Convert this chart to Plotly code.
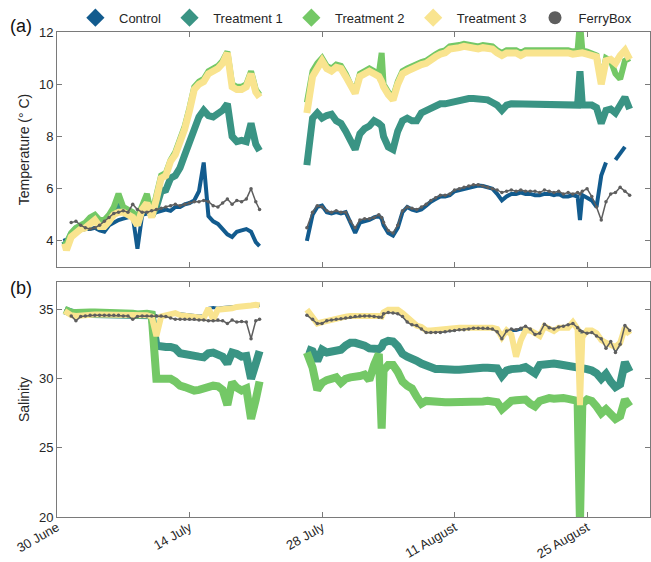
import pandas as pd
import plotly.graph_objects as go
from plotly.subplots import make_subplots

# ---------------- time axes (days after 30 June) ----------------
days_a = [0.8, 1.0, 1.5, 2.0, 2.5, 3.0, 3.5, 4.0,
          4.5, 5.0, 5.5, 6.0, 6.5, 7.0, 7.5, 8.0,
          8.5, 9.0, 9.5, 10.0, 10.5, 11.0, 11.5, 12.0,
          12.5, 13.0, 13.5, 14.0, 14.5, 15.0, 15.5, 16.0,
          16.5, 17.0, 17.5, 18.0, 18.5, 19.0, 19.5, 20.0,
          20.5, 21.0, 21.4]
days_b = [26.4, 27.0, 27.5, 28.0, 28.5, 29.0, 29.5, 30.0,
          30.5, 31.0, 31.5, 32.0, 32.5, 33.0, 33.5, 34.0,
          34.3, 34.5, 35.0, 35.5, 36.0, 36.5, 37.0, 37.5,
          38.0, 38.5, 39.0, 39.5, 40.0, 40.5, 41.0, 41.5,
          42.0, 42.5, 43.0, 43.5, 44.0, 44.5, 45.0, 45.5,
          46.0, 46.5, 47.0, 47.5, 48.0, 48.5, 49.0, 49.5,
          50.0, 50.5, 51.0, 51.5, 52.0, 52.5, 53.0, 53.5,
          54.0, 54.5, 55.0, 55.25, 55.5, 56.0, 56.5, 57.0,
          57.5, 58.0, 58.5, 59.0, 59.5, 60.0, 60.5]
gap_day = [24.0]

tick_days = [0, 14, 28, 42, 56]
tick_labels = ["30 June", "14 July", "28 July", "11 August", "25 August"]

series_names = ["Control", "Treatment 1", "Treatment 2", "Treatment 3", "FerryBox"]

# ---------------- temperature (deg C) ----------------
ctrl_T_a = [4.1, 3.9, 4.2, 4.35, 4.4, 4.45, 4.45, 4.5,
            4.4, 4.35, 4.6, 4.7, 4.8, 4.85, 4.9, 4.95,
            3.7, 5.0, 5.05, 5.1, 5.1, 5.15, 5.2, 5.15,
            5.3, 5.3, 5.4, 5.45, 5.55, 5.9, 7.0, 4.95,
            4.75, 4.65, 4.45, 4.25, 4.15, 4.35, 4.4, 4.45,
            4.35, 3.95, 3.8]
t1_T_a = [4.0, 3.85, 4.25, 4.45, 4.5, 4.6, 4.7, 4.85,
          4.65, 4.65, 4.85, 5.1, 5.3, 5.2, 5.05, 4.95,
          4.7, 5.2, 5.5, 4.95, 5.3, 5.9, 5.95, 6.4,
          6.5, 6.8, 7.3, 7.8, 8.3, 8.75, 9.0, 8.8,
          8.75, 8.9, 9.0, 9.25, 8.0, 7.8, 7.85, 7.8,
          8.5, 7.7, 7.45]
t2_T_a = [4.0, 3.9, 4.3, 4.5, 4.6, 4.7, 4.9, 5.0,
          4.8, 4.8, 5.0, 5.3, 5.8, 5.3, 5.2, 5.1,
          4.9, 5.3, 5.8, 5.0, 5.8, 6.5, 6.6, 7.1,
          7.4, 7.9, 8.4, 9.1, 9.9, 10.1, 10.2, 10.5,
          10.6, 10.7, 10.9, 11.25, 10.0, 9.9, 9.9, 10.0,
          10.5, 9.8, 9.6]
t3_T_a = [3.9, 3.65, 4.15, 4.35, 4.45, 4.5, 4.65, 4.8,
          4.55, 4.55, 4.75, 5.0, 5.1, 5.1, 5.0, 4.9,
          4.6, 5.2, 5.45, 4.9, 5.6, 6.4, 6.5, 7.05,
          7.3, 7.8, 8.3, 9.0, 9.8, 10.0, 10.1, 10.4,
          10.5, 10.6, 10.8, 11.2, 9.9, 9.8, 9.8, 9.9,
          10.4, 9.7, 9.5]
fb_T_a = [None, None, 4.7, 4.75, 4.6, 4.5, 4.45, 4.5,
          4.6, 4.75, 4.9, 5.05, 5.1, 5.15, 5.1, 5.4,
          5.2, 5.1, 5.1, 5.15, 5.2, 5.25, 5.3, 5.35,
          5.4, 5.35, 5.4, 5.45, 5.5, 5.5, 5.55, 5.5,
          5.35, 5.3, 5.45, 5.6, 5.4, 5.55, 5.5, 5.6,
          6.0, 5.5, 5.2]

ctrl_T_b = [4.0, 5.0, 5.3, 5.35, 5.1, 5.05, 5.1, 5.05,
            5.1, 4.7, 4.3, 4.7, 4.75, 4.8, 4.9, 4.95,
            4.85, 4.6, 4.3, 4.2, 4.5, 5.1, 5.3, 5.2,
            5.15, 5.2, 5.35, 5.5, 5.6, 5.7, 5.7, 5.75,
            5.9, 5.95, 6.0, 6.05, 6.1, 6.12, 6.1, 6.05,
            6.0, 5.8, 5.55, 5.7, 5.8, 5.8, 5.85, 5.8,
            5.8, 5.75, 5.75, 5.8, 5.8, 5.75, 5.8, 5.7,
            5.7, 5.75, 5.7, 4.8, 5.75, 5.65, 5.55, 5.3,
            6.5, 7.0, None, 7.1, 7.35, 7.6, None]
t1_T_b = [6.9, 8.7, 8.9, 8.7, 8.8, 8.85, 8.6, 8.5,
          8.2, 7.9, 7.5, 8.1, 8.3, 8.4, 8.6, 8.5,
          8.4, 8.0, 7.6, 7.5, 8.2, 8.6, 8.7, 8.6,
          8.6, 8.9, 9.0, 9.1, 9.15, 9.25, 9.25, 9.3,
          9.35, 9.4, 9.45, 9.45, 9.45, 9.45, 9.4, 9.4,
          9.3, 9.2, 9.0, 9.2, 9.25, 9.25, 9.2, 9.2,
          9.2, 9.2, 9.2, 9.25, 9.2, 9.2, 9.25, 9.2,
          9.2, 9.2, 9.2, 10.5, 9.2, 9.2, 9.2, 9.1,
          8.5, 9.0, 9.05, 8.9, 9.2, 9.5, 9.05]
t2_T_b = [9.3, 10.5, 10.8, 11.0, 10.7, 10.6, 10.75, 10.7,
          10.4, 10.0, 9.75, 10.4, 10.5, 10.6, 10.5, 10.4,
          11.2, 10.0, 9.7, 9.5, 10.1, 10.5, 10.6, 10.7,
          10.75, 10.85, 10.9, 11.05, 11.15, 11.25, 11.3, 11.45,
          11.45, 11.5, 11.55, 11.5, 11.5, 11.45, 11.5, 11.5,
          11.45, 11.3, 11.2, 11.3, 11.3, 11.3, 11.2, 11.3,
          11.3, 11.3, 11.35, 11.3, 11.35, 11.35, 11.3, 11.3,
          11.3, 11.25, 11.3, 12.4, 11.3, 11.25, 11.2, 11.1,
          10.1, 11.0, 10.9, 10.4, 10.2, 10.9, 11.0]
t3_T_b = [8.9, 10.3, 10.6, 10.9, 10.6, 10.5, 10.65, 10.6,
          10.3, 9.9, 9.65, 10.3, 10.4, 10.5, 10.4, 10.3,
          10.1, 9.9, 9.6, 9.4, 10.0, 10.4, 10.5, 10.6,
          10.65, 10.75, 10.8, 10.95, 11.05, 11.15, 11.2, 11.35,
          11.35, 11.4, 11.45, 11.4, 11.4, 11.35, 11.4, 11.4,
          11.35, 11.2, 11.1, 11.2, 11.2, 11.2, 11.1, 11.2,
          11.2, 11.2, 11.25, 11.2, 11.25, 11.25, 11.2, 11.2,
          11.2, 11.15, 11.2, 11.2, 11.2, 11.15, 11.1, 11.05,
          10.0, 10.9, 10.95, 10.8, 11.1, 11.3, 10.95]
fb_T_b = [4.5, 5.1, 5.35, 5.3, 5.15, 5.1, 5.15, 5.1,
          5.1, 4.75, 4.5, 4.8, 4.85, 4.85, 4.9, 5.0,
          4.9, 4.7, 4.4, 4.3, 4.6, 5.15, 5.3, 5.25,
          5.2, 5.3, 5.4, 5.55, 5.65, 5.75, 5.75, 5.8,
          5.95, 6.0, 6.05, 6.1, 6.15, 6.15, 6.1, 6.05,
          6.0, 5.95, 5.85, 5.9, 5.95, 5.9, 5.95, 5.9,
          5.9, 5.9, 5.85, 5.95, 5.9, 5.85, 5.9, 5.8,
          5.85, 5.8, 5.85, 5.8, 5.9, 6.0, 5.7, 5.3,
          4.8, 5.5, 5.8, 5.85, 6.05, 5.9, 5.75]

# ---------------- salinity ----------------
ctrl_S_a = [35.0, 34.95, 34.8, 34.75, 34.75, 34.75, 34.72, 34.72,
            34.72, 34.72, 34.7, 34.7, 34.72, 34.72, 34.7, 34.7,
            34.65, 34.7, 34.72, 34.7, 34.55, 34.5, 34.55, 34.7,
            34.75, 34.7, 34.65, 34.6, 34.6, 34.55, 34.55, 35.1,
            35.15, 35.1, 35.15, 35.2, 35.2, 35.25, 35.25, 35.25,
            35.3, 35.3, 35.3]
t1_S_a = [34.95, 34.9, 34.7, 34.7, 34.7, 34.7, 34.7, 34.7,
          34.7, 34.7, 34.7, 34.7, 34.7, 34.7, 34.65, 34.65,
          34.6, 34.65, 34.65, 34.6, 32.4, 32.3, 32.3, 32.3,
          32.2, 31.85, 31.75, 31.75, 31.6, 31.6, 31.55, 31.85,
          31.9, 31.8, 31.6, 31.1, 31.9, 31.8, 31.6, 31.65,
          30.0, 31.1, 32.0]
t2_S_a = [35.0, 34.9, 34.75, 34.75, 34.8, 34.8, 34.8, 34.8,
          34.8, 34.8, 34.75, 34.75, 34.75, 34.75, 34.7, 34.7,
          34.65, 34.7, 34.7, 34.65, 30.0, 30.0, 30.0, 30.0,
          29.8, 29.5, 29.4, 29.2, 29.15, 29.2, 29.3, 29.5,
          29.5, 29.45, 29.2, 28.1, 29.75, 29.35, 29.15, 29.3,
          27.1, 28.5, 29.8]
t3_S_a = [34.9, 34.8, 34.6, 34.55, 34.6, 34.65, 34.65, 34.65,
          34.65, 34.65, 34.65, 34.65, 34.6, 34.6, 34.6, 34.6,
          34.55, 34.6, 34.6, 34.5, 33.1, 34.5, 34.6, 34.7,
          34.75, 34.6, 34.55, 34.5, 34.5, 34.45, 34.4, 35.1,
          34.3, 35.0, 35.0, 35.05, 35.1, 35.2, 35.2, 35.25,
          35.3, 35.35, 35.3]
fb_S_a = [None, None, 34.55, 34.2, 34.5, 34.55, 34.6, 34.6,
          34.6, 34.6, 34.6, 34.6, 34.6, 34.55, 34.55, 34.3,
          34.5, 34.55, 34.55, 34.55, 34.55, 34.55, 34.5, 34.4,
          34.3, 34.3, 34.3, 34.3, 34.3, 34.25, 34.25, 34.2,
          34.2, 34.25, 34.2, 34.0, 34.25, 34.1, 34.15, 34.1,
          32.9, 34.2, 34.3]

ctrl_S_b = [34.9, 34.5, 34.1, 34.05, 34.2, 34.3, 34.35, 34.4,
            34.45, 34.5, 34.55, 34.55, 34.6, 34.6, 34.55, 34.5,
            34.5, 34.75, 34.9, 34.85, 34.8, 34.6, 34.2, 33.95,
            33.85, 33.65, 33.4, 33.4, 33.45, 33.4, 33.45, 33.55,
            33.6, 33.6, 33.6, 33.65, 33.7, 33.7, 33.7, 33.7,
            33.65, 33.5, 33.0, 33.4, 33.5, 33.5, 33.6, 33.5,
            33.4, 33.25, 33.2, 33.8, 33.65, 33.5, 33.7, 33.75,
            33.8, 33.9, 33.65, 33.5, 33.2, 33.4, 33.4, 33.2,
            32.85, 32.5, 32.5, 32.1, 32.5, 33.75, 33.3]
t1_S_b = [32.15, 32.0, 31.3, 32.1, 31.9, 31.95, 32.05, 32.1,
          32.4, 32.6, 32.6, 32.55, 32.4, 32.2, 32.15, 32.15,
          32.3, 32.6, 32.75, 32.7, 32.35, 31.8, 31.6, 31.5,
          31.3, 31.1, 30.95, 30.7, 30.7, 30.7, 30.65, 30.65,
          30.65, 30.65, 30.7, 30.7, 30.7, 30.75, 30.8, 30.8,
          30.8, 30.75, 30.2, 30.6, 30.7, 30.7, 30.75, 30.85,
          30.6, 30.4, 31.0, 31.05, 31.05, 31.1, 31.05, 31.0,
          30.95, 30.9, 30.9, 30.8, 30.85, 30.7, 30.6, 30.4,
          30.0, 30.35, 29.8, 29.4, 29.6, 31.2, 30.5]
t2_S_b = [31.9, 30.8, 29.2, 29.7, 29.9, 30.0, 30.1, 29.7,
          30.0, 30.1, 30.1, 30.2, 30.3, 29.9, 31.0, 31.8,
          26.4, 30.6, 31.0, 31.0, 30.5, 29.8, 29.5, 29.3,
          28.7, 28.2, 28.4, 28.35, 28.3, 28.3, 28.3, 28.3,
          28.3, 28.25, 28.25, 28.3, 28.3, 28.3, 28.35, 28.4,
          28.4, 28.3, 27.8, 28.2, 28.4, 28.45, 28.55, 28.5,
          28.2, 28.0, 28.4, 28.55, 28.6, 28.55, 28.65, 28.6,
          28.55, 28.5, 28.4, 19.5, 28.2, 28.5, 28.4, 28.0,
          27.5, 27.8, 27.5, 27.1, 27.3, 28.5, 28.0]
t3_S_b = [35.0, 34.5, 34.0, 34.1, 34.2, 34.3, 34.35, 34.4,
          34.5, 34.55, 34.55, 34.55, 34.6, 34.65, 34.6, 34.55,
          34.5, 34.8, 35.0, 35.0, 35.0, 34.75, 34.4, 34.1,
          33.85, 33.75, 33.5, 33.5, 33.55, 33.5, 33.55, 33.65,
          33.7, 33.7, 33.7, 33.7, 33.75, 33.8, 33.8, 33.75,
          33.7, 33.6, 33.0, 33.5, 33.2, 31.6, 32.8, 33.5,
          33.5, 33.3, 33.1, 33.8, 33.6, 33.45, 33.7, 33.75,
          33.7, 34.1, 33.6, 28.1, 33.0, 33.5, 33.5, 33.3,
          32.8, 32.6, 32.4, 32.3, 32.6, 33.7, 33.2]
fb_S_b = [34.6, 34.3, 34.0, 34.0, 34.2, 34.25, 34.3, 34.35,
          34.4, 34.45, 34.5, 34.55, 34.55, 34.55, 34.5, 34.45,
          34.45, 34.7, 34.8, 34.75, 34.7, 34.5, 34.1, 33.9,
          33.85, 33.6, 33.35, 33.35, 33.35, 33.35, 33.4, 33.45,
          33.5, 33.55, 33.55, 33.6, 33.65, 33.65, 33.65, 33.65,
          33.6, 33.4, 32.9, 33.45, 33.6, 33.55, 33.65, 33.8,
          33.6, 33.2, 33.3, 33.95, 33.7, 33.6, 33.75, 33.8,
          33.9, 34.0, 33.7, 33.5, 33.4, 33.3, 33.35, 33.1,
          32.9, 32.2, 32.7, 31.9, 32.5, 33.85, 33.5]

# ---------------- styling ----------------
colors = ["#125b8e", "#3a9484", "#74c866", "#f9e48f", "#5e5e5e"]
legend_symbols = ["diamond", "diamond", "diamond", "diamond", "circle"]
temp_widths = [4, 7, 6, 7, 2]
sal_widths = [3, 8, 8, 6, 2]
axis_color = "#7a7a7a"
text_color = "#262626"
FONT = "Liberation Sans, Arial, Helvetica, sans-serif"
NB = "\u00a0"

base = pd.Timestamp("2021-06-30")


def to_dates(d_list):
    return [base + pd.Timedelta(days=d) for d in d_list]


all_days = to_dates(days_a + gap_day + days_b)


def join(a, b):
    return a + [None] + b


temp_series = [join(ctrl_T_a, ctrl_T_b), join(t1_T_a, t1_T_b), join(t2_T_a, t2_T_b),
               join(t3_T_a, t3_T_b), join(fb_T_a, fb_T_b)]
sal_series = [join(ctrl_S_a, ctrl_S_b), join(t1_S_a, t1_S_b), join(t2_S_a, t2_S_b),
              join(t3_S_a, t3_S_b), join(fb_S_a, fb_S_b)]

fig = make_subplots(rows=2, cols=1, shared_xaxes=True, vertical_spacing=0.031)

for row, series, widths in [(1, temp_series, temp_widths), (2, sal_series, sal_widths)]:
    for i, name in enumerate(series_names):
        if name == "FerryBox":
            fig.add_trace(go.Scatter(
                x=all_days, y=series[i], mode="lines+markers", name=name,
                line=dict(color=colors[i], width=1.5),
                marker=dict(color=colors[i], size=3.5),
                showlegend=False, hoverinfo="skip"), row=row, col=1)
        else:
            fig.add_trace(go.Scatter(
                x=all_days, y=series[i], mode="lines", name=name,
                line=dict(color=colors[i], width=widths[i]),
                showlegend=False, hoverinfo="skip"), row=row, col=1)

# legend entries (diamond / circle symbols like the original)
for i, name in enumerate(series_names):
    fig.add_trace(go.Scatter(
        x=[None], y=[None], mode="markers", name=NB + name + NB,
        marker=dict(color=colors[i], symbol=legend_symbols[i],
                    size=14 if legend_symbols[i] == "diamond" else 13),
        showlegend=True), row=1, col=1)

x_range = [base, base + pd.Timedelta(days=62.65)]
tick_vals = to_dates(tick_days)

axis_common = dict(showline=True, linecolor=axis_color, linewidth=1, mirror="ticks",
                   ticks="inside", ticklen=5, tickcolor=axis_color, showgrid=False,
                   zeroline=False, tickfont=dict(size=13, color=text_color, family=FONT))

fig.update_xaxes(range=x_range, tickvals=tick_vals, ticktext=tick_labels, **axis_common)
fig.update_xaxes(showticklabels=False, row=1, col=1)
fig.update_xaxes(tickangle=-30, ticklabelstandoff=-3, row=2, col=1)

fig.update_yaxes(range=[3, 12], tickvals=[4, 6, 8, 10, 12], domain=[0.5155, 1.0],
                 title=dict(text="Temperature (° C)", standoff=6,
                            font=dict(size=14, color=text_color, family=FONT)),
                 row=1, col=1, **axis_common)
fig.update_yaxes(range=[20, 37], tickvals=[20, 25, 30, 35], domain=[0.0, 0.4845],
                 title=dict(text="Salinity", standoff=6,
                            font=dict(size=14, color=text_color, family=FONT)),
                 row=2, col=1, **axis_common)

fig.add_annotation(text="(a)", xref="paper", yref="paper", x=-0.0612, y=1.0124,
                   xanchor="center", yanchor="middle",
                   showarrow=False, font=dict(size=18, color="#111111", family=FONT))
fig.add_annotation(text="(b)", xref="paper", yref="paper", x=-0.0612, y=0.472,
                   xanchor="center", yanchor="middle",
                   showarrow=False, font=dict(size=18, color="#111111", family=FONT))

fig.update_layout(
    width=651, height=562,
    margin=dict(l=57, r=1, t=32, b=45, autoexpand=False),
    plot_bgcolor="white", paper_bgcolor="white",
    font=dict(family=FONT, size=13, color=text_color),
    legend=dict(orientation="h", x=0.031, xanchor="left", y=1.0295, yanchor="middle",
                font=dict(size=13, color=text_color, family=FONT),
                bgcolor="rgba(0,0,0,0)", borderwidth=0, itemclick=False),
    showlegend=True,
)

fig.write_html("out.html", config={"displayModeBar": False},
               post_script="document.body.style.margin='0';")
